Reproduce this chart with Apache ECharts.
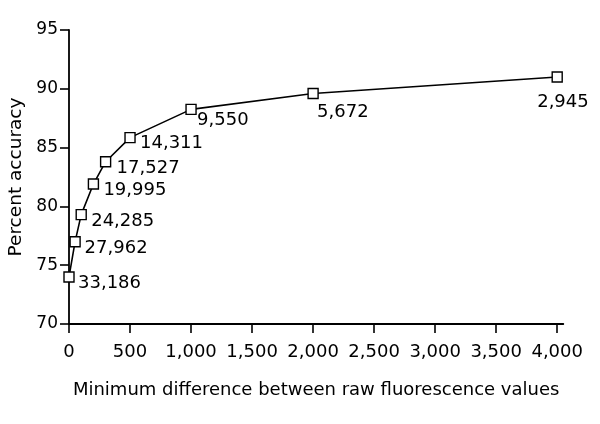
<!DOCTYPE html>
<html>
<head>
<meta charset="utf-8">
<script src="https://cdn.jsdelivr.net/npm/echarts@6/dist/echarts.min.js"></script>
<style>html,body{margin:0;padding:0;background:#fff;}#c{width:600px;height:424px;}</style>
</head>
<body>
<div id="c"></div>
<script>
// Data
var minDiff = [0, 50, 100, 200, 300, 500, 1000, 2000, 4000];
var accuracy = [74.0, 77.0, 79.3, 81.9, 83.8, 85.85, 88.25, 89.6, 91.0];
var counts = ['33,186', '27,962', '24,285', '19,995', '17,527', '14,311', '9,550', '5,672', '2,945'];
var xTicks = [0, 500, 1000, 1500, 2000, 2500, 3000, 3500, 4000];

// Label placement (style only)
var labelOffsets = [[9, 6], [9.5, 7], [10, 7], [10, 6], [11, 7], [10, 6], [6, 11], [4, 19], [-20, 25]];

var FONT = 'DejaVu Sans';
var chart = echarts.init(document.getElementById('c'), null, {renderer: 'canvas'});

var seriesData = minDiff.map(function (x, i) {
  return {
    value: [x, accuracy[i]],
    label: {
      show: true,
      formatter: counts[i],
      position: 'inside',
      align: 'left',
      verticalAlign: 'middle',
      offset: labelOffsets[i],
      color: '#000',
      fontSize: 18,
      fontFamily: FONT
    }
  };
});

chart.setOption({
  backgroundColor: '#fff',
  animation: false,
  grid: {left: 69, right: 36.7, top: 30, bottom: 100, containLabel: false, outerBoundsMode: 'none'},
  xAxis: {
    type: 'value',
    min: 0,
    max: 4050,
    name: 'Minimum difference between raw fluorescence values',
    nameLocation: 'middle',
    nameGap: 57,
    nameTextStyle: {color: '#000', fontSize: 18, fontFamily: FONT},
    axisLine: {show: true, onZero: false, lineStyle: {color: '#000', width: 1.8}},
    axisTick: {show: true, length: 9, inside: false, customValues: xTicks, lineStyle: {color: '#000', width: 1.6}},
    axisLabel: {
      customValues: xTicks,
      margin: 19,
      color: '#000',
      fontSize: 18,
      fontFamily: FONT,
      formatter: function (v) { return v.toLocaleString('en-US'); }
    },
    splitLine: {show: false}
  },
  yAxis: {
    type: 'value',
    min: 70,
    max: 95,
    interval: 5,
    name: 'Percent accuracy',
    nameLocation: 'middle',
    nameGap: 42,
    nameRotate: 90,
    nameTextStyle: {color: '#000', fontSize: 18.5, fontFamily: FONT},
    axisLine: {show: true, lineStyle: {color: '#000', width: 1.8}},
    axisTick: {show: true, length: 9, lineStyle: {color: '#000', width: 1.6}},
    axisLabel: {margin: 11, color: '#000', fontSize: 17, fontFamily: FONT},
    splitLine: {show: false}
  },
  series: [{
    type: 'line',
    data: seriesData,
    symbol: 'rect',
    symbolSize: 10,
    showAllSymbol: true,
    lineStyle: {color: '#000', width: 1.6},
    itemStyle: {color: '#fff', borderColor: '#000', borderWidth: 1.4},
    emphasis: {disabled: true},
    z: 3
  }]
});
</script>
</body>
</html>
